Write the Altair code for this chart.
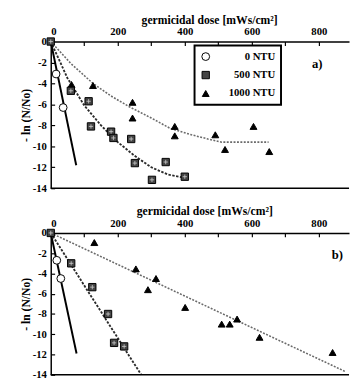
import altair as alt
import pandas as pd

# ---------------- data ----------------
series_names = ["0 NTU", "500 NTU", "1000 NTU"]

# panel a)
a_c_x = [16, 37]
a_c_y = [-3.1, -6.3]
a_s_x = [0, 60, 113, 120, 180, 187, 240, 251, 302, 343, 400]
a_s_y = [0, -4.7, -5.7, -8.1, -8.6, -9.2, -9.3, -11.6, -13.2, -11.5, -12.9]
a_t_x = [62, 126, 244, 244, 370, 370, 491, 520, 605, 652]
a_t_y = [-4.1, -4.2, -5.8, -7.3, -8.1, -9.0, -8.9, -10.3, -8.1, -10.5]
a_l0_x = [0, 76]
a_l0_y = [0, -11.8]
a_l500_x = [0, 50, 100, 150, 200, 250, 300, 350, 400]
a_l500_y = [0, -3.5, -6.1, -8.0, -9.6, -10.9, -12.0, -12.7, -13.0]
a_l1000_x = [0, 60, 126, 180, 233, 300, 357, 420, 469, 510, 650]
a_l1000_y = [0, -2.1, -4.0, -5.2, -6.2, -7.3, -8.3, -8.9, -9.3, -9.6, -9.6]

# panel b)
b_c_x = [18, 30]
b_c_y = [-2.7, -4.5]
b_s_x = [0, 61, 124, 171, 189, 219]
b_s_y = [0, -3.0, -5.35, -8.0, -10.85, -11.2]
b_t_x = [130, 254, 290, 314, 401, 510, 534, 556, 623, 841]
b_t_y = [-0.95, -3.55, -5.6, -4.5, -7.35, -9.0, -9.0, -8.5, -10.3, -11.8]
b_l0_x = [0, 77]
b_l0_y = [0, -11.9]
b_l500_x = [0, 270]
b_l500_y = [0, -14]
b_l1000_x = [0, 880]
b_l1000_y = [0, -13.7]

x_ticks = [0, 100, 200, 300, 400, 500, 600, 700, 800]
y_ticks = [-14, -12, -10, -8, -6, -4, -2, 0]

FONT = "Liberation Serif"
W = 307
XDOM = [0, 890]
YDOM = [-14, 0]


def panel(cx, cy, sx, sy, tx, ty, l0, l500, l1000, tag, tag_xy, leg_xy, h, title_x):
    pts = pd.DataFrame(
        {
            "x": tx + cx + sx,
            "y": ty + cy + sy,
            "s": ["1000 NTU"] * len(tx) + ["0 NTU"] * len(cx) + ["500 NTU"] * len(sx),
        }
    )
    xsc = alt.Scale(domain=XDOM, nice=False, zero=False)
    ysc = alt.Scale(domain=YDOM, nice=False, zero=False)
    xax = alt.Axis(
        orient="top",
        values=x_ticks,
        labelExpr="datum.value % 200 == 0 ? toString(datum.value) : ''",
        tickSize=alt.ExprRef(expr="-4"),
        labelPadding=9,
        title="germicidal dose [mWs/cm²]",
        titlePadding=1,
        titleX=title_x,
        minExtent=15,
        maxExtent=15,
        grid=False,
    )
    yax = alt.Axis(
        values=y_ticks,
        labelExpr="toString(datum.value)",
        tickSize=alt.ExprRef(expr="-4"),
        labelPadding=8.5,
        title="- ln (N/No)",
        titlePadding=0,
        minExtent=19,
        maxExtent=19,
        grid=False,
    )
    X = alt.X("x:Q", scale=xsc, axis=xax)
    Y = alt.Y("y:Q", scale=ysc, axis=yax)

    def line(xs, ys, **kw):
        return alt.Chart(pd.DataFrame({"x": xs, "y": ys})).mark_line(**kw).encode(
            x=alt.X("x:Q", scale=xsc, axis=xax), y=alt.Y("y:Q", scale=ysc, axis=yax)
        )

    lines = [
        line(l1000[0], l1000[1], color="#6a6a6a", strokeWidth=1.6, strokeDash=[2, 1.5]),
        line(l500[0], l500[1], color="#2a2a2a", strokeWidth=1.9, strokeDash=[2.5, 1.5]),
        line(l0[0], l0[1], color="black", strokeWidth=2),
    ]
    points = alt.Chart(pts).mark_point(filled=True, stroke="black", strokeWidth=1, opacity=1).encode(
        x=X,
        y=Y,
        shape=alt.Shape(
            "s:N",
            scale=alt.Scale(domain=series_names, range=["circle", "square", "triangle-up"]),
            legend=alt.Legend(
                title=None,
                orient="none",
                legendX=leg_xy[0],
                legendY=leg_xy[1],
                strokeColor="black",
                padding=6,
                labelFont=FONT,
                labelFontSize=11,
                labelFontWeight="bold",
                labelAlign="right",
                labelOffset=66,
                rowPadding=6,
                symbolStrokeColor="black",
                symbolStrokeWidth=1,
                fillColor="white",
            ),
        ),
        fill=alt.Fill(
            "s:N",
            scale=alt.Scale(domain=series_names, range=["white", "#444444", "black"]),
        ),
        size=alt.Size(
            "s:N",
            scale=alt.Scale(domain=series_names, range=[64, 50, 110]),
        ),
    )
    sq = pd.DataFrame({"x": sx, "y": sy})
    cross = alt.Chart(sq).mark_point(
        shape="M-0.7,0H0.7M0,-0.7V0.7", size=40, stroke="#cfcfcf", strokeWidth=0.8, filled=False, opacity=1
    ).encode(x=X, y=Y)
    bottom = alt.Chart(pd.DataFrame({"x": [XDOM[0]], "x2": [XDOM[1]], "y": [YDOM[0]]})).mark_rule(
        color="black", strokeWidth=1.5
    ).encode(x=X, x2="x2:Q", y=Y)
    lab = alt.Chart(pd.DataFrame({"x": [tag_xy[0]], "y": [tag_xy[1]], "t": [tag]})).mark_text(
        font=FONT, fontSize=13, fontWeight="bold", color="black"
    ).encode(x=X, y=Y, text="t:N")
    return alt.layer(*lines, points, cross, bottom, lab).properties(width=W, height=h)


pa = panel(a_c_x, a_c_y, a_s_x, a_s_y, a_t_x, a_t_y,
           (a_l0_x, a_l0_y), (a_l500_x, a_l500_y), (a_l1000_x, a_l1000_y),
           "a)", (795, -2.2), (148, 4), 151, 163)
pb = panel(b_c_x, b_c_y, b_s_x, b_s_y, b_t_x, b_t_y,
           (b_l0_x, b_l0_y), (b_l500_x, b_l500_y), (b_l1000_x, b_l1000_y),
           "b)", (855, -2.2), (169, 7), 146, 158)

chart = (
    alt.vconcat(pa, pb, spacing=12)
    .properties(padding={"left": 12, "top": 0, "right": 0, "bottom": 0})
    .configure_view(stroke=None)
    .configure_legend(strokeWidth=2)
    .configure_axis(
        domainColor="black",
        domainWidth=1.5,
        tickColor="black",
        tickWidth=1.2,
        labelFont=FONT,
        labelFontSize=11,
        labelFontWeight="bold",
        labelColor="black",
        titleFont=FONT,
        titleFontSize=12,
        titleFontWeight="bold",
        titleColor="black",
    )
)

chart.save("out.html", embed_options={"renderer": "svg", "actions": False})
